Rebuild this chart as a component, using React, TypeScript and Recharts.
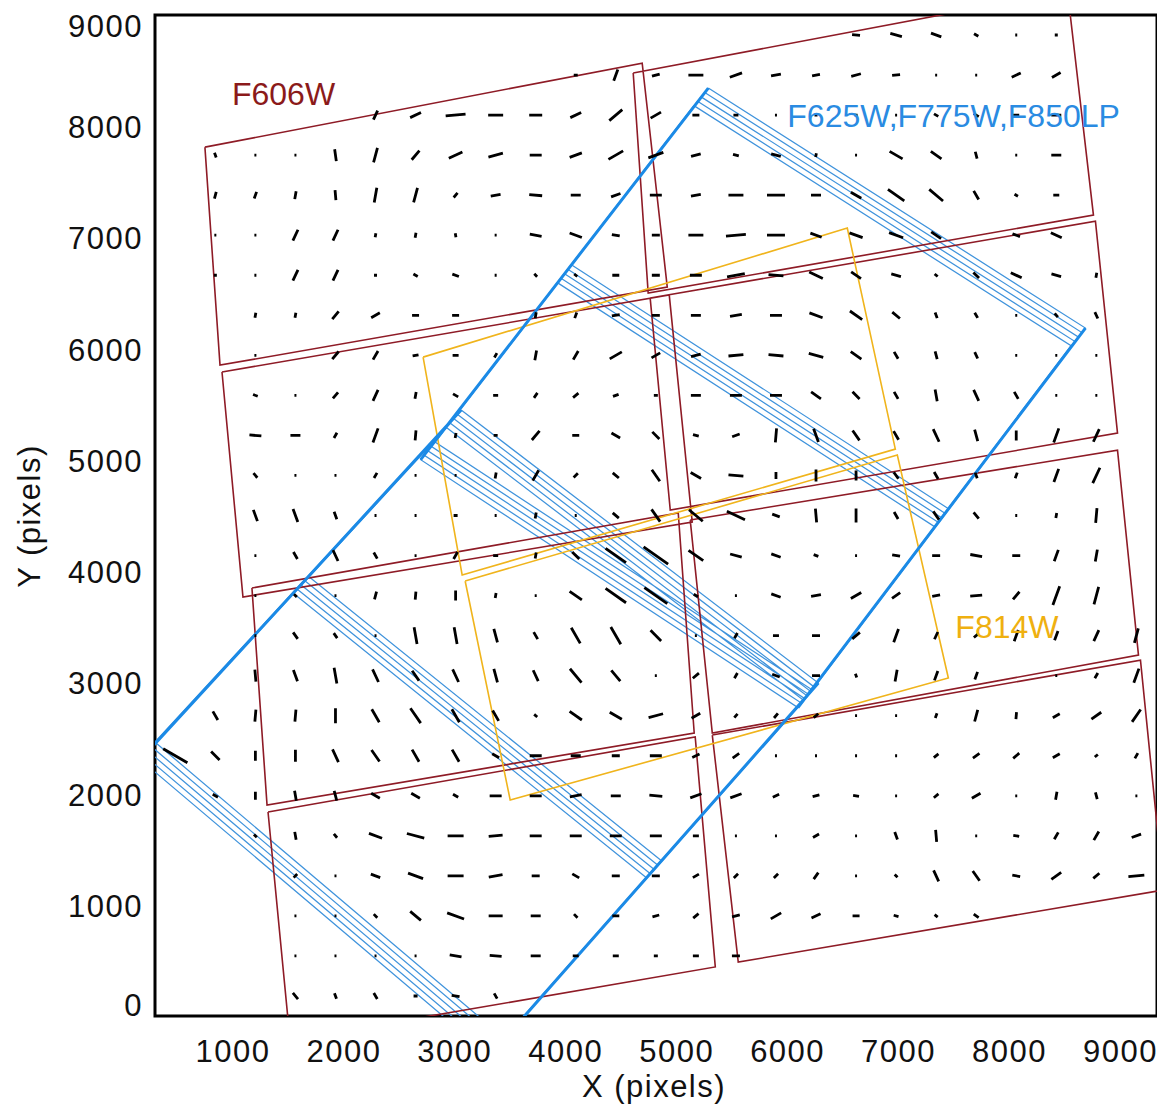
import React from 'react';
import { ComposedChart, Line, XAxis, YAxis, ReferenceArea, ReferenceDot } from 'recharts';

type Pt = [number, number];

const FONT = '"Liberation Sans", Arial, Helvetica, sans-serif';

const xTicks = [1000, 2000, 3000, 4000, 5000, 6000, 7000, 8000, 9000];
const yTicks = [0, 1000, 2000, 3000, 4000, 5000, 6000, 7000, 8000, 9000];

// whisker grid (pixel coordinates of the detector mosaic)
const gridX = [480, 841, 1202, 1563, 1924, 2285, 2646, 3007, 3368, 3729, 4090, 4451, 4812, 5173, 5534, 5895, 6256, 6617, 6978, 7339, 7700, 8061, 8422, 8783, 9144];
const gridY = [8820, 8460, 8100, 7740, 7380, 7020, 6660, 6300, 5940, 5580, 5220, 4860, 4500, 4140, 3780, 3420, 3060, 2700, 2340, 1980, 1620, 1260, 900, 540, 180];

// one list per grid row: [column, angle (deg), length (pixels)]
const whiskerRows: number[][][] = [
  [[17,-5,72],[18,-15,108],[19,-20,99],[20,-30,45],[21,0,18],[22,0,27]],
  [[10,0,36],[11,70,108],[12,15,72],[13,0,135],[14,20,117],[15,10,90],[16,10,72],[17,15,90],[18,5,72],[19,0,18],[20,0,18],[21,25,90],[22,30,90]],
  [[5,65,90],[6,25,108],[7,5,180],[8,0,135],[9,0,117],[10,25,108],[11,40,153],[12,30,108],[13,0,63],[14,0,45],[15,0,18],[16,0,27],[17,0,27],[18,0,18],[19,-30,45],[20,-30,54],[21,0,54],[22,0,90]],
  [[1,-70,45],[2,0,18],[3,0,18],[4,-82,108],[5,75,135],[6,50,108],[7,25,135],[8,15,135],[9,0,108],[10,20,117],[11,30,153],[12,20,144],[13,15,90],[14,-15,54],[15,-15,90],[16,80,36],[17,0,18],[18,-30,135],[19,-35,117],[20,-75,63],[21,0,18],[22,0,90]],
  [[1,75,63],[2,70,63],[3,80,72],[4,-85,90],[5,80,135],[6,75,135],[7,50,54],[8,10,90],[9,-5,117],[10,0,90],[11,20,90],[12,0,108],[13,10,90],[14,0,135],[15,0,162],[16,0,90],[17,-30,108],[18,-35,180],[19,-40,162],[20,-60,90],[21,-30,36],[22,0,54]],
  [[1,0,18],[2,0,18],[3,65,108],[4,65,108],[5,80,36],[6,80,45],[7,-80,36],[8,0,18],[9,-10,108],[10,-20,117],[11,-10,72],[12,0,72],[13,0,135],[14,5,180],[15,0,162],[16,-20,108],[17,-20,126],[18,-20,135],[19,-35,108],[21,-20,72],[22,-25,108]],
  [[1,0,27],[2,0,18],[3,65,108],[4,65,108],[5,0,27],[6,-30,45],[7,-20,63],[8,0,18],[9,-45,36],[10,-40,36],[11,0,63],[12,0,72],[13,0,108],[14,10,162],[15,-5,135],[16,-25,135],[17,-35,108],[18,-15,90],[19,-40,36],[20,-45,72],[21,-25,108],[22,-15,90],[23,80,45]],
  [[2,80,45],[3,80,45],[4,50,90],[5,30,90],[6,0,63],[7,0,63],[9,80,54],[10,70,54],[11,10,72],[12,0,72],[13,0,90],[14,10,108],[15,0,108],[16,-20,126],[17,-35,135],[18,-40,90],[19,-70,54],[20,-60,54],[21,0,18],[22,-50,45],[23,-65,63]],
  [[2,0,18],[4,50,90],[5,60,90],[6,10,54],[7,0,54],[8,60,45],[9,80,90],[10,60,90],[11,30,126],[12,30,90],[13,15,90],[14,5,135],[15,-5,135],[16,-15,135],[17,-35,117],[18,-60,72],[19,-75,72],[20,-65,63],[21,0,18],[22,0,18],[23,0,18]],
  [[2,-20,45],[3,0,18],[4,50,72],[5,65,108],[6,80,63],[7,-30,54],[8,0,45],[9,55,54],[10,40,63],[11,20,54],[12,0,36],[13,0,90],[14,0,108],[15,0,108],[16,-35,108],[17,-45,90],[18,-60,72],[19,-80,108],[20,-65,108],[21,-60,72],[22,0,18],[23,0,18]],
  [[2,-5,108],[3,0,90],[4,60,54],[5,70,135],[6,85,90],[7,80,45],[8,0,36],[9,50,108],[10,0,63],[11,-30,90],[12,-45,90],[13,-15,54],[14,20,72],[15,85,126],[16,-70,126],[17,-55,108],[18,-60,90],[19,-65,126],[20,-75,108],[21,90,90],[22,70,135],[23,65,126]],
  [[2,-50,54],[3,0,18],[4,0,18],[5,60,54],[6,0,18],[7,0,18],[8,80,54],[9,60,108],[10,45,54],[11,-40,72],[12,-55,126],[13,-30,108],[14,-5,135],[15,90,63],[16,90,108],[17,90,90],[18,-55,72],[19,-60,72],[20,-70,54],[21,70,54],[22,70,126],[23,65,153]],
  [[2,-70,108],[3,-70,126],[4,-70,72],[5,0,18],[6,0,18],[7,0,36],[8,0,18],[9,80,54],[10,0,18],[11,-40,72],[12,-55,135],[13,-40,162],[14,-25,180],[15,-20,72],[16,-85,126],[17,90,126],[18,-60,72],[19,-55,90],[20,-50,72],[21,0,18],[22,80,45],[23,85,135]],
  [[2,0,18],[3,-60,72],[4,-65,108],[5,-60,63],[6,0,18],[7,60,72],[8,0,45],[9,80,54],[10,-45,90],[11,-35,225],[12,-35,270],[13,-35,162],[14,-15,108],[15,-20,90],[16,-20,45],[17,0,18],[18,-10,72],[19,0,72],[20,-10,108],[21,0,72],[22,70,108],[23,80,108]],
  [[2,0,18],[3,-45,36],[4,0,18],[5,75,72],[6,85,72],[7,90,90],[8,80,45],[9,0,18],[10,-35,135],[11,-35,225],[12,-35,252],[13,-30,45],[14,0,18],[15,-20,90],[16,10,90],[17,30,108],[18,35,90],[19,10,72],[20,5,108],[21,50,90],[22,70,180],[23,75,162]],
  [[2,0,18],[3,-55,72],[4,-55,54],[5,0,18],[6,-80,153],[7,-80,153],[8,-75,126],[9,-60,72],[10,-60,162],[11,-60,180],[12,-45,135],[13,0,18],[14,60,54],[15,0,54],[16,0,72],[17,40,90],[18,70,126],[19,65,72],[20,40,54],[21,70,108],[22,70,90],[23,65,108],[24,75,135]],
  [[2,-85,108],[3,-70,108],[4,-80,144],[5,-65,126],[6,-55,108],[7,-65,126],[8,-75,126],[9,-65,108],[10,-50,162],[11,-50,126],[12,0,18],[13,40,72],[14,60,54],[15,-20,72],[16,0,72],[17,-70,36],[18,80,108],[19,70,90],[20,70,72],[22,0,18],[23,60,54],[24,70,135]],
  [[1,-60,90],[2,85,108],[3,85,108],[4,90,135],[5,-60,135],[6,-55,162],[7,-60,135],[8,-60,108],[9,-40,36],[10,-35,135],[11,-30,126],[12,15,135],[13,30,90],[14,50,45],[15,50,54],[16,40,54],[17,0,18],[18,0,18],[19,70,45],[20,75,108],[21,85,63],[22,30,72],[23,35,108],[24,55,135]],
  [[0,-30,252],[1,-45,108],[2,90,90],[3,90,108],[4,-65,126],[5,-55,126],[6,-60,126],[7,-60,126],[8,-30,72],[9,0,108],[10,0,90],[11,0,72],[12,0,108],[13,25,72],[14,35,72],[15,0,18],[16,0,18],[17,0,18],[18,0,18],[19,40,54],[20,35,72],[21,40,72],[22,30,72],[23,40,36],[24,60,54]],
  [[1,-30,54],[2,90,72],[3,-80,90],[4,-75,90],[5,-30,90],[6,-30,90],[7,-30,54],[8,0,108],[9,0,108],[10,10,108],[11,0,90],[12,-5,117],[13,20,108],[14,20,108],[15,25,63],[16,15,63],[17,-10,54],[18,0,18],[19,40,54],[20,30,90],[21,0,18],[22,80,72],[23,-75,63],[24,0,18]],
  [[2,-45,36],[3,-80,72],[4,-50,45],[5,-20,126],[6,-15,162],[7,0,144],[8,5,126],[9,0,108],[10,0,108],[11,0,108],[12,0,108],[13,0,54],[14,0,18],[15,0,18],[16,30,63],[17,0,18],[18,-70,72],[19,-85,108],[20,0,18],[21,-10,54],[22,60,72],[23,60,90],[24,20,90]],
  [[3,45,45],[4,0,18],[5,-20,90],[6,-20,144],[7,0,144],[8,10,126],[9,0,72],[10,-30,72],[11,0,72],[12,0,72],[13,30,63],[14,45,54],[15,45,54],[16,55,72],[17,0,18],[18,-45,36],[19,-65,108],[20,-55,108],[21,-10,72],[22,35,108],[23,40,72],[24,5,144]],
  [[3,0,18],[4,0,18],[5,-45,45],[6,-40,126],[7,-20,162],[8,0,126],[9,0,90],[10,-45,45],[11,0,63],[12,15,63],[13,40,63],[14,15,72],[15,30,108],[16,25,90],[17,0,63],[18,-15,45],[19,-40,36],[20,-35,54]],
  [[3,0,18],[4,0,18],[5,0,18],[6,0,18],[7,-10,108],[8,-5,108],[9,0,90],[10,0,54],[11,0,54],[12,0,36],[13,0,54],[14,0,72]],
  [[3,-50,72],[4,-70,54],[5,-60,63],[6,0,36],[7,-10,72],[8,-60,54]],
];

// F606W chips (corners)
const f606wChips: Pt[][] = [
  [[747, 7812], [4689, 8567], [4915, 6554], [883, 5852]],
  [[4608, 8478], [8523, 9215], [8757, 7201], [4743, 6500]],
  [[901, 5790], [4933, 6482], [5140, 4441], [1090, 3767]],
  [[4761, 6455], [8775, 7147], [8974, 5241], [4942, 4549]],
  [[1171, 3848], [5014, 4522], [5158, 2544], [1307, 1897]],
  [[5122, 4459], [8974, 5088], [9163, 3245], [5321, 2544]],
  [[1316, 1834], [5167, 2508], [5348, 441], [1514, -216]],
  [[5321, 2526], [9181, 3200], [9389, 1133], [5555, 485]],
];

// F814W chips
const f814wChips: Pt[][] = [
  [[2714, 5924], [6538, 7084], [6971, 5097], [3066, 3965]],
  [[3093, 3911], [6989, 5043], [7449, 3039], [3499, 1942]],
];

// F625W/F775W/F850LP: two pointings, each dithered
const blueUpper: Pt[] = [[5285, 8343], [8685, 6185], [6223, 2931], [2822, 5160]];
const blueLower: Pt[] = [[3057, 5448], [6277, 2994], [3444, -198], [296, 2463]];
const blueUpperGap: Pt[] = [[4054, 6752], [7454, 4558]];
const blueLowerGap: Pt[] = [[1677, 3956], [4860, 1398]];
const blueDithers: Pt[] = [[0, 0], [-32, -40], [-65, -79], [-97, -119], [-130, -158]];

const shift = (p: Pt, d: Pt): Pt => [p[0] + d[0], p[1] + d[1]];
const closed = (poly: Pt[]): Pt[] => [...poly, poly[0]];

function toSegments(lines: Pt[][]) {
  const pts: { x: number; y: number | null }[] = [];
  lines.forEach((line) => {
    line.forEach(([x, y]) => pts.push({ x, y }));
    pts.push({ x: line[line.length - 1][0], y: null });
  });
  return pts;
}

const redData = toSegments(f606wChips.map(closed));
const yellowData = toSegments(f814wChips.map(closed));

const blueThinLines: Pt[][] = [];
blueDithers.forEach((d) => {
  blueThinLines.push(closed(blueUpper.map((p) => shift(p, d))));
  blueThinLines.push(closed(blueLower.map((p) => shift(p, d))));
  blueThinLines.push(blueUpperGap.map((p) => shift(p, d)));
  blueThinLines.push(blueLowerGap.map((p) => shift(p, d)));
});
const lastD = blueDithers[blueDithers.length - 1];
const blueThinData = toSegments(blueThinLines);
const blueThickData = toSegments([
  [blueUpper[0], shift(blueUpper[3], lastD)],
  [blueUpper[1], shift(blueUpper[2], lastD)],
  [blueLower[0], shift(blueLower[3], lastD)],
  [blueLower[1], shift(blueLower[2], lastD)],
]);

const whiskerLines: Pt[][] = [];
whiskerRows.forEach((row, j) => {
  row.forEach(([c, ang, len]) => {
    const a = (ang * Math.PI) / 180;
    const dx = (len / 2) * Math.cos(a);
    const dy = (len / 2) * Math.sin(a);
    whiskerLines.push([[gridX[c] - dx, gridY[j] - dy], [gridX[c] + dx, gridY[j] + dy]]);
  });
});
const whiskerData = toSegments(whiskerLines);

const XTick = (props: any) => (
  <text x={props.x} y={props.y + 46} textAnchor="middle" fontSize={31} fill="#111" fontFamily={FONT} style={{ letterSpacing: '1.5px' }}>
    {props.payload.value}
  </text>
);

const YTick = (props: any) => {
  const v = props.payload.value;
  const dy = v === 0 ? 0 : v === 9000 ? 22 : 12;
  return (
    <text x={props.x - 12} y={props.y + dy} textAnchor="end" fontSize={31} fill="#111" fontFamily={FONT} style={{ letterSpacing: '1.5px' }}>
      {v}
    </text>
  );
};

const labelShape = (text: string, color: string) => (p: any) => (
  <text x={p.cx} y={p.cy} fill={color} fontSize={32} fontFamily={FONT}>
    {text}
  </text>
);

export default function App() {
  return (
    <div style={{ position: 'relative', width: 1157, height: 1100 }}>
      <ComposedChart width={1157} height={1100} margin={{ top: 7, right: 8, bottom: 0, left: 0 }}>
        <XAxis
          type="number"
          dataKey="x"
          domain={[297, 9330]}
          allowDataOverflow
          ticks={xTicks}
          interval={0}
          height={92}
          tickSize={0}
          tickMargin={0}
          axisLine={false}
          tickLine={false}
          tick={(p: any) => <XTick {...p} />}
        />
        <YAxis
          type="number"
          domain={[0, 9000]}
          allowDataOverflow
          ticks={yTicks}
          interval={0}
          width={147}
          tickSize={0}
          tickMargin={0}
          axisLine={false}
          tickLine={false}
          tick={(p: any) => <YTick {...p} />}
        />
        <Line data={blueThinData} dataKey="y" type="linear" stroke="#3f93dc" strokeWidth={1.25} dot={false} activeDot={false} isAnimationActive={false} />
        <Line data={redData} dataKey="y" type="linear" stroke="#8e1b26" strokeWidth={1.6} dot={false} activeDot={false} isAnimationActive={false} />
        <Line data={yellowData} dataKey="y" type="linear" stroke="#f0b41c" strokeWidth={1.6} dot={false} activeDot={false} isAnimationActive={false} />
        <Line data={blueThickData} dataKey="y" type="linear" stroke="#1b8ae6" strokeWidth={3} dot={false} activeDot={false} isAnimationActive={false} />
        <Line data={whiskerData} dataKey="y" type="linear" stroke="#000" strokeWidth={2.8} strokeLinecap="butt" dot={false} activeDot={false} isAnimationActive={false} />
        <ReferenceArea x1={297} x2={9330} y1={0} y2={9000} fill="none" stroke="#000" strokeWidth={3} />
        <ReferenceDot x={991} y={8190} r={0} shape={labelShape('F606W', '#8b1a1a')} />
        <ReferenceDot x={5997} y={7992} r={0} shape={labelShape('F625W,F775W,F850LP', '#2a8be2')} />
        <ReferenceDot x={7512} y={3398} r={0} shape={labelShape('F814W', '#efb010')} />
      </ComposedChart>
      <svg width={1157} height={1100} style={{ position: 'absolute', left: 0, top: 0, pointerEvents: 'none' }}>
        <text x={646} y={1089} textAnchor="middle" fontSize={31} fill="#111" fontFamily={FONT} style={{ letterSpacing: '1.5px' }}>
          X (pixels)
        </text>
        <text x={32} y={508} transform="rotate(-90 32 508)" textAnchor="middle" fontSize={31} fill="#111" fontFamily={FONT} style={{ letterSpacing: '1.5px' }}>
          Y (pixels)
        </text>
      </svg>
    </div>
  );
}
